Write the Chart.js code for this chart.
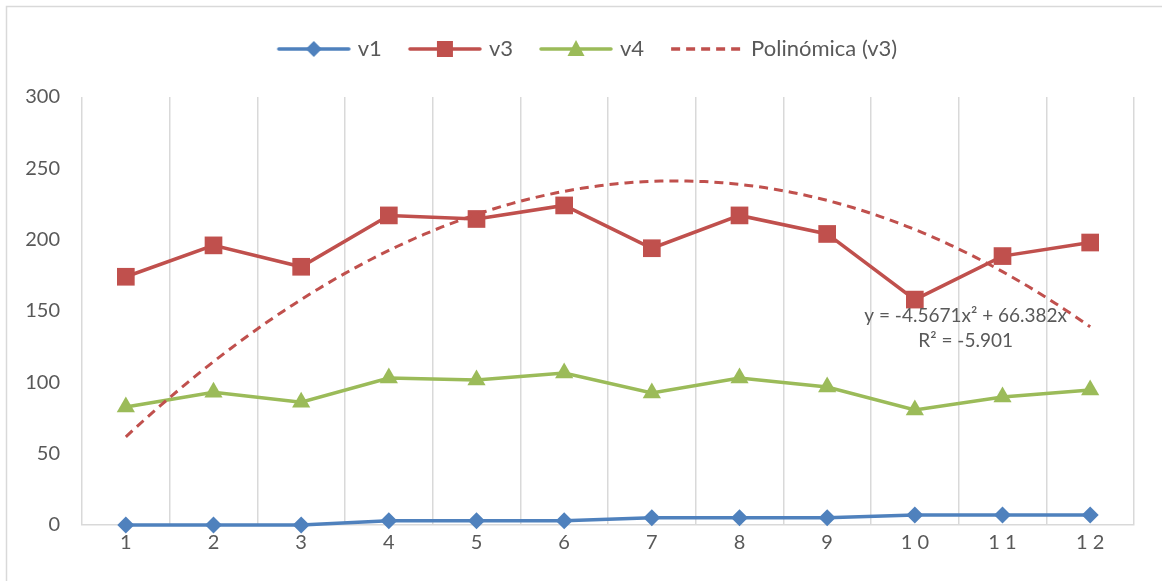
<!DOCTYPE html>
<html>
<head>
<meta charset="utf-8">
<style>
  html, body { margin: 0; padding: 0; background: #ffffff; }
  #wrap { position: relative; width: 1162px; height: 581px; }
</style>
<script src="https://cdn.jsdelivr.net/npm/chart.js@4/dist/chart.umd.min.js"></script>
</head>
<body>
<div id="wrap"><canvas id="chart" width="1162" height="581"></canvas></div>
<script>
// Categories and tick labels
const categories = ['1', '2', '3', '4', '5', '6', '7', '8', '9', '10', '11', '12'];
const xTickLabels = ['1', '2', '3', '4', '5', '6', '7', '8', '9', '1 0', '1 1', '1 2'];
const yTicks = [0, 50, 100, 150, 200, 250, 300];

// Series values
const v1 = [0, 0, 0, 3, 3, 3, 5, 5, 5, 7, 7, 7];
const v3 = [174, 196, 181, 217, 214.5, 224, 194, 217, 204, 158, 188.5, 198];
const v4 = [82.7, 93, 86, 103, 101.6, 106.5, 92.5, 103, 96.7, 80.6, 89.7, 94.6];

// Polynomial trendline of v3 (order 2, through origin) as stated in its label
const trendA = -4.5671;
const trendB = 66.382;
const trendLabel = ['y = -4.5671x\u00B2 + 66.382x', 'R\u00B2 = -5.901'];

const FONT = 'Lato, "Open Sans", "Liberation Sans", sans-serif';
const TEXT = '#595959';
const GRID = '#d9d9d9';
const BLUE = '#4F81BD';
const RED = '#C0504D';
const GREEN = '#9BBB59';

// Trendline sampled along the fitted curve across the data range
const trendPoints = [];
for (let i = 0; i <= 110; i++) {
  const x = 1 + i * 0.1;
  trendPoints.push({ x: x, y: trendA * x * x + trendB * x });
}

// Legend symbols: a line segment with the series marker centred on it
function legendIcon(color, marker, dashed) {
  const c = document.createElement('canvas');
  c.width = 78; c.height = 24;
  const g = c.getContext('2d');
  const m = 39;
  g.strokeStyle = color;
  g.fillStyle = color;
  g.lineWidth = 3.5;
  if (dashed) {
    g.setLineDash([9, 6]);
    g.beginPath(); g.moveTo(3, 12); g.lineTo(75, 12); g.stroke();
    return c;
  }
  g.lineCap = 'round';
  g.beginPath(); g.moveTo(4, 12); g.lineTo(74, 12); g.stroke();
  g.beginPath();
  if (marker === 'diamond') {
    g.moveTo(m - 8, 12); g.lineTo(m, 4); g.lineTo(m + 8, 12); g.lineTo(m, 20);
  } else if (marker === 'square') {
    g.rect(m - 8, 12 - 8, 16, 16);
  } else if (marker === 'triangle') {
    g.moveTo(m, 3); g.lineTo(m + 8.5, 19); g.lineTo(m - 8.5, 19);
  }
  g.closePath(); g.fill();
  return c;
}

const legendItems = [
  { text: 'v1', icon: legendIcon(BLUE, 'diamond'), ds: 0 },
  { text: 'v3', icon: legendIcon(RED, 'square'), ds: 1 },
  { text: 'v4', icon: legendIcon(GREEN, 'triangle'), ds: 2 },
  { text: 'Polinómica (v3)', icon: legendIcon(RED, null, true), ds: 3 }
];

// Outer frame, legend placement and the trendline equation
const decorations = {
  id: 'decorations',
  beforeInit(chart) {
    const legend = chart.legend;
    if (legend) {
      const fit = legend.fit.bind(legend);
      legend.fit = function () { fit(); this.height = 89; };
    }
  },
  afterLayout(chart) {
    // centre the legend row over the plot rather than the whole canvas
    const legend = chart.legend;
    if (legend) { legend.left += 17; legend.right += 17; }
  },
  beforeDraw(chart) {
    const ctx = chart.ctx;
    ctx.save();
    ctx.strokeStyle = GRID;
    ctx.lineWidth = 1.5;
    ctx.beginPath();
    ctx.moveTo(6.5, 600); ctx.lineTo(6.5, 6.5); ctx.lineTo(1200, 6.5);
    ctx.stroke();
    ctx.restore();
  },
  afterDatasetsDraw(chart) {
    const ctx = chart.ctx;
    const xs = chart.scales.xt, ys = chart.scales.y;
    const cx = xs.getPixelForValue(10.58);
    ctx.save();
    ctx.fillStyle = TEXT;
    ctx.font = '19px ' + FONT;
    ctx.textAlign = 'center';
    ctx.textBaseline = 'middle';
    ctx.fillText(trendLabel[0], cx, ys.getPixelForValue(146.5));
    ctx.fillText(trendLabel[1], cx, ys.getPixelForValue(129));
    ctx.restore();
  }
};

new Chart(document.getElementById('chart'), {
  type: 'line',
  data: {
    labels: categories,
    datasets: [
      {
        label: 'v1', data: v1, order: 4, clip: false,
        borderColor: BLUE, backgroundColor: BLUE, borderWidth: 3.5,
        pointStyle: 'rectRot', pointRadius: 8.5, pointBorderWidth: 0, pointBackgroundColor: BLUE,
        tension: 0
      },
      {
        label: 'v3', data: v3, order: 3, clip: false,
        borderColor: RED, backgroundColor: RED, borderWidth: 3.5,
        pointStyle: 'rect', pointRadius: 12.5, pointBorderWidth: 0, pointBackgroundColor: RED,
        tension: 0
      },
      {
        label: 'v4', data: v4, order: 2, clip: false,
        borderColor: GREEN, backgroundColor: GREEN, borderWidth: 3.5,
        pointStyle: 'triangle', pointRadius: 10.5, pointBorderWidth: 0, pointBackgroundColor: GREEN,
        tension: 0
      },
      {
        label: 'Polinómica (v3)', data: trendPoints, order: 1, xAxisID: 'xt', clip: false,
        borderColor: RED, borderWidth: 3, borderDash: [9, 6],
        pointRadius: 0, tension: 0
      }
    ]
  },
  options: {
    responsive: false,
    animation: false,
    layout: { padding: { top: 8, left: 10, right: 28, bottom: 0 } },
    plugins: {
      tooltip: { enabled: false },
      legend: {
        position: 'top',
        labels: {
          usePointStyle: true,
          pointStyleWidth: 66,
          padding: 30,
          color: TEXT,
          font: { family: FONT, size: 22 },
          generateLabels() {
            return legendItems.map(it => ({
              text: it.text,
              pointStyle: it.icon,
              fillStyle: 'transparent',
              strokeStyle: 'transparent',
              lineWidth: 0,
              hidden: false,
              datasetIndex: it.ds,
              fontColor: TEXT
            }));
          }
        }
      }
    },
    scales: {
      x: {
        type: 'category',
        offset: true,
        grid: { display: true, offset: true, color: GRID, lineWidth: 1.5, drawTicks: false },
        border: { display: true, color: GRID, width: 1.5 },
        ticks: {
          color: TEXT, padding: 6, autoSkip: false, maxRotation: 0,
          font: { family: FONT, size: 20 },
          callback: (v, i) => xTickLabels[i]
        },
        afterFit(scale) { scale.height = 56; }
      },
      xt: {
        type: 'linear', display: false, min: 0.5, max: 12.5
      },
      y: {
        min: 0, max: 300,
        grid: { display: false, drawTicks: false },
        border: { display: false },
        afterBuildTicks(scale) { scale.ticks = yTicks.map(v => ({ value: v })); },
        ticks: {
          color: TEXT, padding: 22,
          font: { family: FONT, size: 20 }
        },
        afterFit(scale) { scale.width = 72; }
      }
    }
  },
  plugins: [decorations]
});
</script>
</body>
</html>
